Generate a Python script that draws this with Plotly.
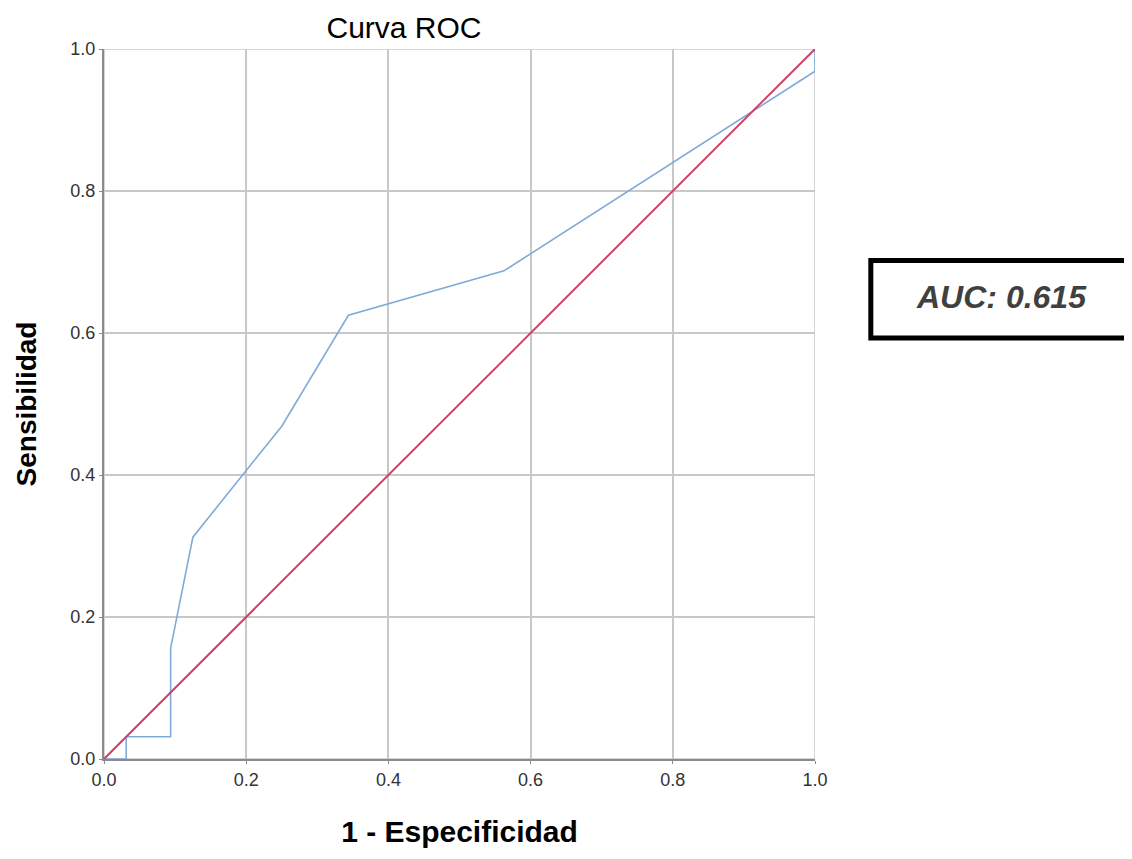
import plotly.graph_objects as go

# ROC curve data (1 - Specificity, Sensitivity)
fpr = [0.0, 0.03125, 0.03125, 0.09375, 0.09375, 0.125, 0.25, 0.34375, 0.5625, 1.0, 1.0]
tpr = [0.0, 0.0, 0.03125, 0.03125, 0.15625, 0.3125, 0.46875, 0.625, 0.6875, 0.96875, 1.0]
ref_x = [0.0, 1.0]
ref_y = [0.0, 1.0]
tick_vals = [0.0, 0.2, 0.4, 0.6, 0.8, 1.0]
tick_text = ["0.0", "0.2", "0.4", "0.6", "0.8", "1.0"]
auc_label = "AUC: 0.615"

FONT = "Arial, Liberation Sans, sans-serif"
W, H = 1124, 851  # page body has an 8px margin

fig = go.Figure()
fig.add_trace(go.Scatter(x=fpr, y=tpr, mode="lines",
                         line=dict(color="#7fabd9", width=1.6), showlegend=False))
fig.add_trace(go.Scatter(x=ref_x, y=ref_y, mode="lines",
                         line=dict(color="#cf3f66", width=2), showlegend=False))

axis_common = dict(range=[0, 1], tickvals=tick_vals, ticktext=tick_text,
                   showgrid=True, gridcolor="#c8c8c8", gridwidth=1.5,
                   zeroline=False, showline=True, linecolor="#8a8a8a", linewidth=2,
                   ticks="outside", ticklen=3, tickcolor="#8a8a8a",
                   automargin=False,
                   tickfont=dict(family=FONT, size=18, color="#333333"))

fig.update_xaxes(**axis_common,
                 title=dict(text="<b>1 - Especificidad</b>", standoff=32,
                            font=dict(family=FONT, size=30, color="#000000")))
fig.update_yaxes(**axis_common,
                 title=dict(text="<b>Sensibilidad</b>", standoff=26,
                            font=dict(family=FONT, size=28, color="#000000")))

# plot border top/right
fig.add_shape(type="rect", xref="x", yref="y", x0=0, y0=0, x1=1, y1=1,
              line=dict(color="#c8c8c8", width=1.5), layer="below")

# AUC box
fig.add_shape(type="rect", xref="paper", yref="paper",
              x0=1.0785, x1=1.6, y0=0.593, y1=0.702,
              line=dict(color="#000000", width=5), fillcolor="white")
fig.add_annotation(xref="paper", yref="paper", x=1.262, y=0.651,
                   text="<b><i>" + auc_label + "</i></b>", showarrow=False,
                   font=dict(family=FONT, size=32, color="#404040"),
                   xanchor="center", yanchor="middle")

fig.update_layout(
    width=W, height=H,
    margin=dict(l=96, r=317, t=41, b=100),
    paper_bgcolor="white", plot_bgcolor="white",
    title=dict(text="Curva ROC", x=396 / W, xanchor="center", y=1 - 19 / H, yanchor="middle",
               font=dict(family=FONT, size=30, color="#000000")),
)

fig.write_html("out.html")
